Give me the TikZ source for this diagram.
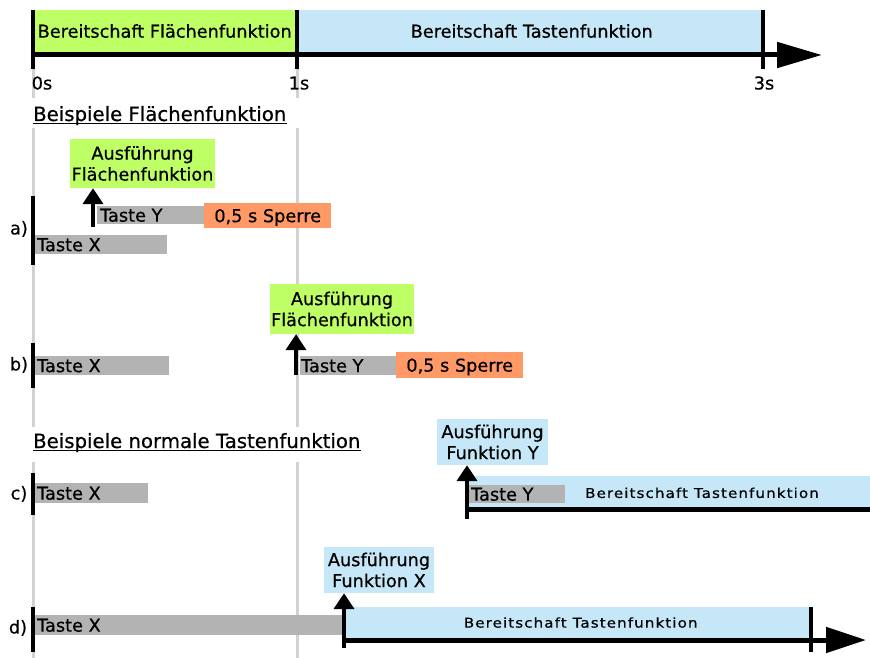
\documentclass[tikz,border=0pt]{standalone}
\usepackage{fontspec}
\setmainfont[FakeBold=0.6]{DejaVu Sans}
\newfontfamily\basefont[FakeBold=0.6]{DejaVu Sans}
\newfontfamily\barfont[FakeStretch=1.12,LetterSpace=8,FakeBold=0.5]{DejaVu Sans}
\usetikzlibrary{arrows.meta,calc}
\definecolor{lime}{RGB}{191,255,102}
\definecolor{lblue}{RGB}{198,231,247}
\definecolor{sperre}{RGB}{255,153,102}
\definecolor{bargray}{RGB}{179,179,179}
\definecolor{linegray}{RGB}{210,210,210}
\tikzset{
  txt/.style={inner sep=0pt, font=\fontsize{17.7}{21}\basefont, text height=12.9pt, text depth=0pt},
  head/.style={inner sep=0pt, font=\fontsize{19.7}{24}\basefont},
  barbox/.style={inner sep=0pt, draw=none, anchor=north west},
  execbox/.style={inner sep=0pt, draw=none, align=center, font=\fontsize{17.7}{21}\basefont},
  smalltxt/.style={inner sep=0pt, font=\fontsize{13.5}{16}\barfont, text height=9.8pt, text depth=0pt},
  tick/.style={line width=4pt, black},
  grid/.style={line width=3pt, linegray},
  axisline/.style={line width=5pt, black},
  uparrow/.style={line width=4pt, -{Triangle[width=20pt,length=16pt]}},
  uline/.style={line width=1.4pt},
}
\begin{document}
\begin{tikzpicture}[x=1pt,y=-1pt]
\useasboundingbox (0,0) rectangle (870,658);

% background grid lines
\foreach \gx in {33,297}{
  \draw[grid] (\gx,69) -- (\gx,98);
  \draw[grid] (\gx,128) -- (\gx,427);
  \draw[grid] (\gx,462) -- (\gx,658);
}

% ---------- top time axis ----------
\node[barbox, fill=lime, minimum width=263, minimum height=42] (tgreen) at (33,10) {};
\node[barbox, fill=lblue, minimum width=467, minimum height=42] (tblue) at (296,10) {};
\node[txt] (tgreentxt) at (tgreen.center) {Bereitschaft Flächenfunktion};
\node[txt] (tbluetxt) at ([xshift=2pt]tblue.center) {Bereitschaft Tastenfunktion};
\coordinate (ax0) at (33,55);
\coordinate (axend) at (822,55);
\draw[axisline, -{Triangle[width=25pt,length=45pt]}] (ax0) -- (axend);
\draw[tick] (33,10) -- (33,69);
\draw[tick] (297,10) -- (297,69);
\draw[tick] (763,10) -- (763,69);
\node[txt] (l0) at (42,83) {0s};
\node[txt] (l1) at (299,83) {1s};
\node[txt] (l3) at (764,83) {3s};

% ---------- header 1 ----------
\node[head, anchor=base west] (h1) at (33,121) {Beispiele Flächenfunktion};
\draw[uline] ([yshift=-2.5pt]h1.base west) -- ([yshift=-2.5pt]h1.base east);

% ---------- row a ----------
\node[execbox, fill=lime, minimum width=145, minimum height=49] (aexec) at (142.5,163.5) {Ausführung\\Flächenfunktion};
\node[barbox, fill=bargray, minimum width=107, minimum height=18] (ay) at (97,206) {};
\node[txt, anchor=west] (ayt) at ([xshift=3pt]ay.west) {Taste Y};
\node[barbox, fill=sperre, minimum width=127, minimum height=25] (asp) at (204,203) {};
\node[txt] (aspt) at (asp.center) {0,5 s Sperre};
\node[barbox, fill=bargray, minimum width=132, minimum height=19] (ax) at (35,235) {};
\node[txt, anchor=west] (axt) at ([xshift=2pt]ax.west) {Taste X};
\draw[tick] (33,196) -- (33,265);
\coordinate (abot) at (93,227);
\draw[uparrow] (abot) -- (abot |- aexec.south);
\node[txt] (alab) at (19,228) {a)};

% ---------- row b ----------
\node[execbox, fill=lime, minimum width=144, minimum height=50] (bexec) at (342,309) {Ausführung\\Flächenfunktion};
\node[barbox, fill=bargray, minimum width=96, minimum height=19] (by) at (300,356) {};
\node[txt, anchor=west] (byt) at ([xshift=1pt]by.west) {Taste Y};
\node[barbox, fill=sperre, minimum width=127, minimum height=26] (bsp) at (396,352) {};
\node[txt] (bspt) at (bsp.center) {0,5 s Sperre};
\node[barbox, fill=bargray, minimum width=134, minimum height=19] (bx) at (35,356) {};
\node[txt, anchor=west] (bxt) at ([xshift=2pt]bx.west) {Taste X};
\draw[tick] (33,343) -- (33,388);
\coordinate (bbot) at (296,375);
\draw[uparrow] (bbot) -- (bbot |- bexec.south);
\node[txt] (blab) at (19,364) {b)};

% ---------- header 2 ----------
\node[head, anchor=base west] (h2) at (33,448) {Beispiele normale Tastenfunktion};
\draw[uline] ([yshift=-2.5pt]h2.base west) -- ([yshift=-2.5pt]h2.base east);

% ---------- row c ----------
\node[execbox, fill=lblue, minimum width=111, minimum height=46] (cexec) at (492.5,442) {Ausführung\\Funktion Y};
\node[barbox, fill=lblue, minimum width=403, minimum height=31] (cbar) at (467,476) {};
\draw[axisline] (467,509.5) -- (870,509.5);
\node[barbox, fill=bargray, minimum width=96, minimum height=18] (cy) at (469,485) {};
\node[txt, anchor=west] (cyt) at ([xshift=2pt]cy.west) {Taste Y};
\node[smalltxt] (cbt) at (702,493) {Bereitschaft Tastenfunktion};
\node[barbox, fill=bargray, minimum width=113, minimum height=20] (cx) at (35,483) {};
\node[txt, anchor=west] (cxt) at ([xshift=2pt]cx.west) {Taste X};
\draw[tick] (33,473) -- (33,515);
\coordinate (cbot) at (467,519);
\draw[uparrow] (cbot) -- (cbot |- cexec.south);
\node[txt] (clab) at (19,493) {c)};

% ---------- row d ----------
\node[execbox, fill=lblue, minimum width=110, minimum height=46] (dexec) at (379,570) {Ausführung\\Funktion X};
\node[barbox, fill=bargray, minimum width=307, minimum height=20] (dx) at (35,615) {};
\node[txt, anchor=west] (dxt) at ([xshift=2pt]dx.west) {Taste X};
\node[barbox, fill=lblue, minimum width=467, minimum height=31] (dbar) at (344,607) {};
\node[smalltxt] (dbt) at ([xshift=3pt]dbar.center) {Bereitschaft Tastenfunktion};
\coordinate (dax0) at (344,640);
\coordinate (daxend) at (866,640);
\draw[axisline, -{Triangle[width=25pt,length=40pt]}] (dax0) -- (daxend);
\draw[tick] (811,607) -- (811,652);
\draw[tick] (33,607) -- (33,652);
\coordinate (dbot) at (344,648);
\draw[uparrow] (dbot) -- (dbot |- dexec.south);
\node[txt] (dlab) at (18,627) {d)};
\end{tikzpicture}
\end{document}
